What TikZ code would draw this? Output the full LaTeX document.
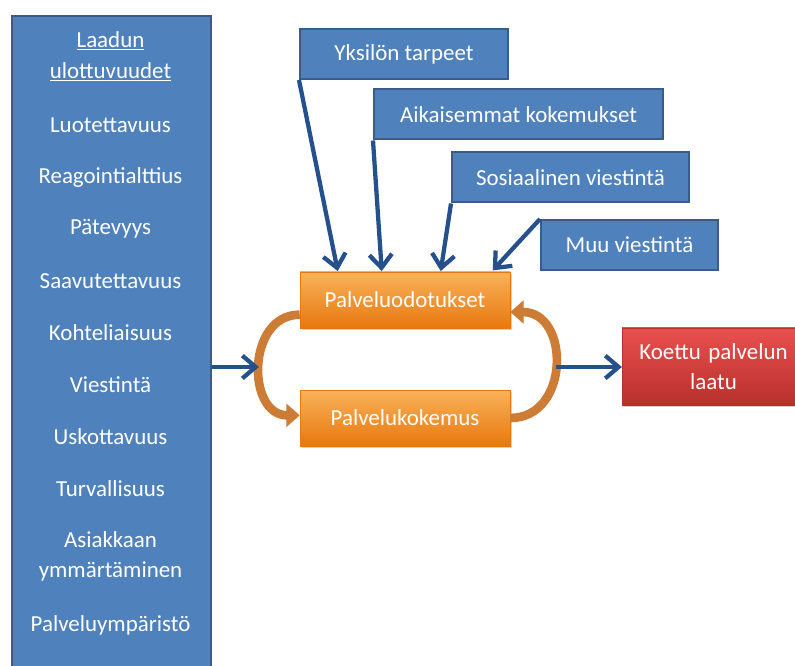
\documentclass[tikz,border=0pt]{standalone}
\usepackage{fontspec}
\setmainfont{Carlito}
\usetikzlibrary{positioning, arrows.meta, shadows}

\definecolor{dimblue}{HTML}{4F81BD}
\definecolor{dimborder}{HTML}{385D8A}
\definecolor{arrowblue}{HTML}{24508C}
\definecolor{progtop}{HTML}{F9B25A}
\definecolor{progbot}{HTML}{E8780E}
\definecolor{loopcol}{HTML}{CD7C35}
\definecolor{redtop}{HTML}{E9504E}
\definecolor{redbot}{HTML}{B8302C}

\begin{document}
\begin{tikzpicture}[x=0.75pt, y=-0.75pt, node distance=39pt, font=\fontsize{17.2}{20}\selectfont]
        \tikzstyle{txt}=[text=white, align=center];
        \tikzstyle{dim}=[draw=dimborder, line width=1.5pt, fill=dimblue, rectangle];
        \tikzstyle{src}=[dim, txt, minimum height=37.5pt];
        \tikzstyle{prog}=[draw=progbot, thin, rectangle, top color=progtop, bottom color=progbot, txt, minimum width=157.5pt, minimum height=42pt, drop shadow={shadow xshift=1.5pt, shadow yshift=-1.5pt, opacity=.35}];
        \tikzstyle{result}=[prog, top color=redtop, bottom color=redbot, draw=redbot, minimum width=137pt, minimum height=58pt, text width=130pt];
        \tikzstyle{flow}=[draw=arrowblue, line width=3.2pt, -{Straight Barb[length=10pt, width=17pt]}];
        \tikzstyle{feedback}=[draw=loopcol, line width=6.5pt, -{Triangle[length=10pt, width=17pt]}];

        \clip (0,0) rectangle (795,666);
        \fill[white] (0,0) rectangle (795,666);

        % quality dimensions
        \node[dim, anchor=north west, minimum width=149.25pt, minimum height=520pt] (dims) at (11,15) {};
        \node[txt] (head) at (110.5,56.5) {\underline{Laadun}\\[3pt]\underline{ulottuvuudet}};
        \node[txt, below of=head, yshift=-12.4pt] (luo) {Luotettavuus};
        \node[txt, below of=luo] (rea) {Reagointialttius};
        \node[txt, below of=rea] (pat) {Pätevyys};
        \node[txt, below of=pat] (saa) {Saavutettavuus};
        \node[txt, below of=saa] (koh) {Kohteliaisuus};
        \node[txt, below of=koh] (vie) {Viestintä};
        \node[txt, below of=vie] (usk) {Uskottavuus};
        \node[txt, below of=usk] (tur) {Turvallisuus};
        \node[txt, below of=tur, yshift=-11.6pt] (asi) {Asiakkaan\\[3pt]ymmärtäminen};
        \node[txt, below of=asi, yshift=-12.4pt] (ymp) {Palveluympäristö};

        % expectation sources
        \node[src, minimum width=156pt] (yks) at (404,54) {Yksilön tarpeet};
        \node[src, minimum width=216.75pt] (aik) at (518.5,114.5) {Aikaisemmat kokemukset};
        \node[src, minimum width=177.75pt] (sos) at (570.5,177.5) {Sosiaalinen viestintä};
        \node[src, minimum width=132.75pt] (muu) at (629.5,245) {Muu viestintä};

        \node[prog] (odot) at (405,300) {Palveluodotukset};
        \node[prog] (koke) at (405,418) {Palvelukokemus};
        \node[result] (laatu) at (713.5,366.5) {Koettu palvelun\\[2pt]laatu};

        \coordinate (inL) at (259,367);
        \coordinate (outR) at (556,367);

        \path
        ([yshift=-11pt]odot.west) edge[feedback, out=180, in=180, looseness=1.36] ([yshift=2pt]koke.west)
        (koke.east) edge[feedback, out=0, in=0, looseness=1.45] ([yshift=-9pt]odot.east);

        \path
        (yks.south west) edge[flow] ([xshift=28.5pt, yshift=.5pt]odot.north west)
        (aik.south west) edge[flow] ([xshift=61.5pt, yshift=.5pt]odot.north west)
        (sos.south west) edge[flow] ([xshift=105.75pt, yshift=.5pt]odot.north west)
        (muu.north west) edge[flow] ([xshift=144.75pt, yshift=1pt]odot.north west)
        (dims.east |- inL) edge[flow] (inL)
        (outR) edge[flow] (laatu.west |- outR);
      \end{tikzpicture}
\end{document}
